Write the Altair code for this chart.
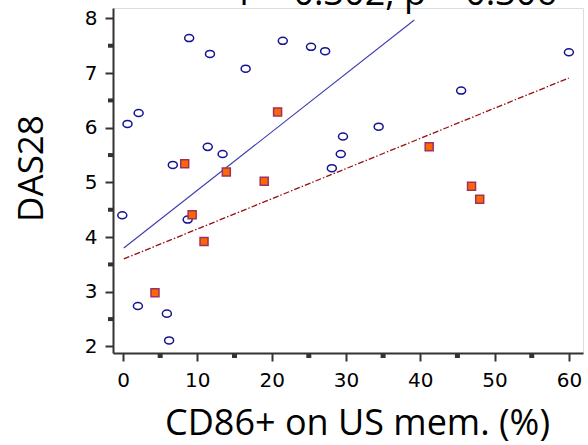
import altair as alt
import pandas as pd

# Open circles (blue)
circ_x = [8.9, 11.7, 16.5, 21.5, 25.3, 27.2, 60.0, 45.5, 2.1, 0.6, 34.4, 29.6,
          11.4, 13.4, 29.3, 6.7, 28.1, -0.1, 8.7, 2.0, 5.9, 6.2]
circ_y = [7.64, 7.35, 7.08, 7.59, 7.48, 7.40, 7.38, 6.68, 6.27, 6.07, 6.02, 5.84,
          5.65, 5.52, 5.52, 5.32, 5.26, 4.40, 4.32, 2.74, 2.60, 2.11]

# Filled squares (orange)
sq_x = [20.8, 8.3, 13.9, 19.0, 41.2, 46.9, 48.0, 9.3, 10.9, 4.3]
sq_y = [6.29, 5.34, 5.19, 5.02, 5.65, 4.93, 4.69, 4.41, 3.92, 2.98]

# Fit lines (end points)
blue_fit_x = [0.1, 39.2]
blue_fit_y = [3.80, 7.97]
red_fit_x = [0.1, 60.0]
red_fit_y = [3.60, 6.91]

x_ticks = [0, 10, 20, 30, 40, 50, 60]
y_ticks = [2, 3, 4, 5, 6, 7, 8]
x_minor = [5, 15, 25, 35, 45, 55]
y_minor = [2.5, 3.5, 4.5, 5.5, 6.5, 7.5]

title_text = ["r = 0.302, p = 0.306"]

W, H = 470, 345

xs = alt.Scale(domain=[-1.35, 61.9], nice=False, zero=False)
ys = alt.Scale(domain=[1.88, 8.19], nice=False, zero=False)

circ = pd.DataFrame({"x": circ_x, "y": circ_y})
sq = pd.DataFrame({"x": sq_x, "y": sq_y})
bl = pd.DataFrame({"x": blue_fit_x, "y": blue_fit_y})
rl = pd.DataFrame({"x": red_fit_x, "y": red_fit_y})
xm = pd.DataFrame({"x": x_minor})
ym = pd.DataFrame({"y": y_minor})
tt = pd.DataFrame({"t": title_text})

ellipse = "M -1 0 A 1 0.78 0 1 0 1 0 A 1 0.78 0 1 0 -1 0 Z"

x_enc = alt.X("x:Q", scale=xs, axis=alt.Axis(
    values=x_ticks, format="d", title="CD86+ on US mem. (%)", grid=False,
    domainColor="#333333", domainWidth=2, tickColor="#333333", tickWidth=2,
    tickSize=8, labelFont="DejaVu Sans", labelFontSize=20, labelColor="black",
    labelPadding=9, titleFont="Open Sans", titleFontSize=36, titleFontWeight="normal",
    titleColor="black", titleX=244, titleY=81, titleAlign="center",
    titleBaseline="alphabetic"))
y_enc = alt.Y("y:Q", scale=ys, axis=alt.Axis(
    values=y_ticks, format="d", title="DAS28", grid=False,
    domainColor="#333333", domainWidth=2, tickColor="#333333", tickWidth=2,
    tickSize=8, labelFont="DejaVu Sans", labelFontSize=20, labelColor="black",
    labelPadding=8, titleFont="Open Sans", titleFontSize=35, titleFontWeight="normal",
    titleColor="black", titleAngle=270, titleX=-71, titleY=160, titleAlign="center",
    titleBaseline="alphabetic"))

circles = alt.Chart(circ).mark_point(
    shape=ellipse, size=81, filled=False, color="#14148f", strokeWidth=1.5, opacity=1
).encode(x=x_enc, y=y_enc)

squares = alt.Chart(sq).mark_square(
    size=64, fill="#ff6600", stroke="#993366", strokeWidth=1.5, opacity=1
).encode(x="x:Q", y="y:Q")

blue_line = alt.Chart(bl).mark_line(color="#3b3baf", strokeWidth=1.1).encode(
    x="x:Q", y="y:Q")
red_line = alt.Chart(rl).mark_line(color="#990f0f", strokeWidth=1.3,
                                    strokeDash=[6, 2, 1.5, 2]).encode(x="x:Q", y="y:Q")

xminor = alt.Chart(xm).mark_tick(color="#333333", size=4, thickness=5, opacity=1).encode(
    x="x:Q", y=alt.value(H + 3))
yminor = alt.Chart(ym).mark_tick(color="#333333", size=5, thickness=4, opacity=1).encode(
    y="y:Q", x=alt.value(-2.5))

title = alt.Chart(tt).mark_text(font="Open Sans", fontSize=36, color="black",
                                align="right", baseline="alphabetic").encode(
    text="t:N", x=alt.value(444), y=alt.value(-3))

chart = alt.layer(blue_line, red_line, circles, squares, xminor, yminor, title).properties(
    width=W, height=H,
    autosize=alt.AutoSizeParams(type="none"),
    padding={"left": 113, "top": 8, "right": 5, "bottom": 92},
).configure_view(stroke=None).configure(background="white")

chart.save("out.html", embed_options={"renderer": "svg", "actions": False})
